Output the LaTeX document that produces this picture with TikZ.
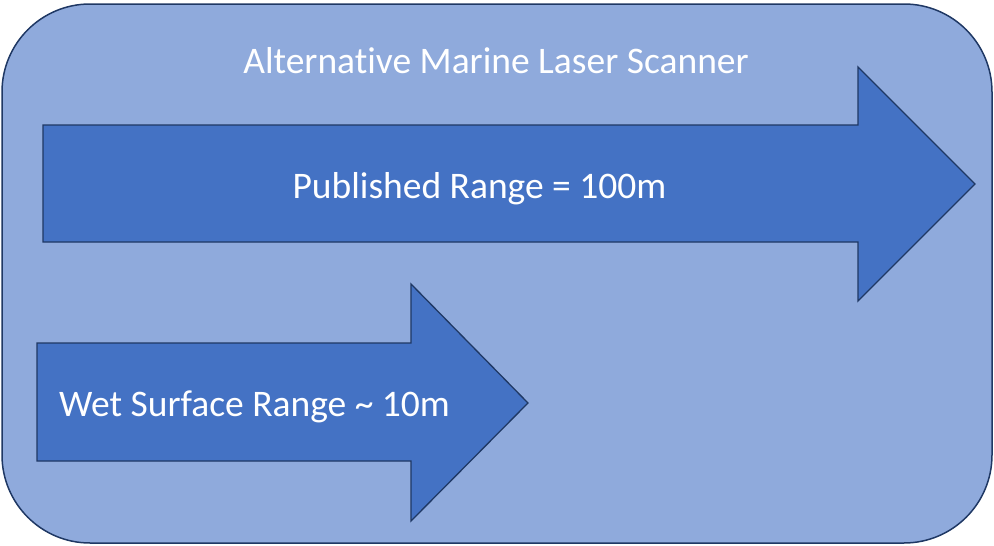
\documentclass[tikz,border=0pt]{standalone}
\usepackage{fontspec}
\setmainfont{Carlito}[Ligatures=CommonOff]
\definecolor{panelfill}{HTML}{8FAADC}
\definecolor{arrowfill}{HTML}{4472C4}
\definecolor{edgecol}{HTML}{1F3864}
\begin{document}
\begin{tikzpicture}[x=1pt,y=-1pt,
  panel/.style={fill=panelfill,draw=edgecol,line width=1.5pt},
  bigarrow/.style={fill=arrowfill,draw=edgecol,line width=1.3pt,line join=miter},
  label/.style={text=white,anchor=base,inner sep=0pt,font=\fontsize{37.5}{42}\selectfont}]
\useasboundingbox (0,0) rectangle (994,546);
\draw[panel,rounded corners=88pt] (2,4) rectangle (992,543);
% published range arrow
\draw[bigarrow] (43,125) -- (858,125) -- (858,67) -- (975,184) -- (858,301) -- (858,242) -- (43,242) -- cycle;
% wet surface arrow
\draw[bigarrow] (37,343) -- (411,343) -- (411,284) -- (528,403) -- (411,521) -- (411,461) -- (37,461) -- cycle;
\node[label] (title) at (496,73) {Alternative Marine Laser Scanner};
\node[label] (pub) at (479.5,198) {Published Range = 100m};
\node[label] (wet) at (254.5,416) {Wet Surface Range \char`~{} 10m};
\end{tikzpicture}
\end{document}
